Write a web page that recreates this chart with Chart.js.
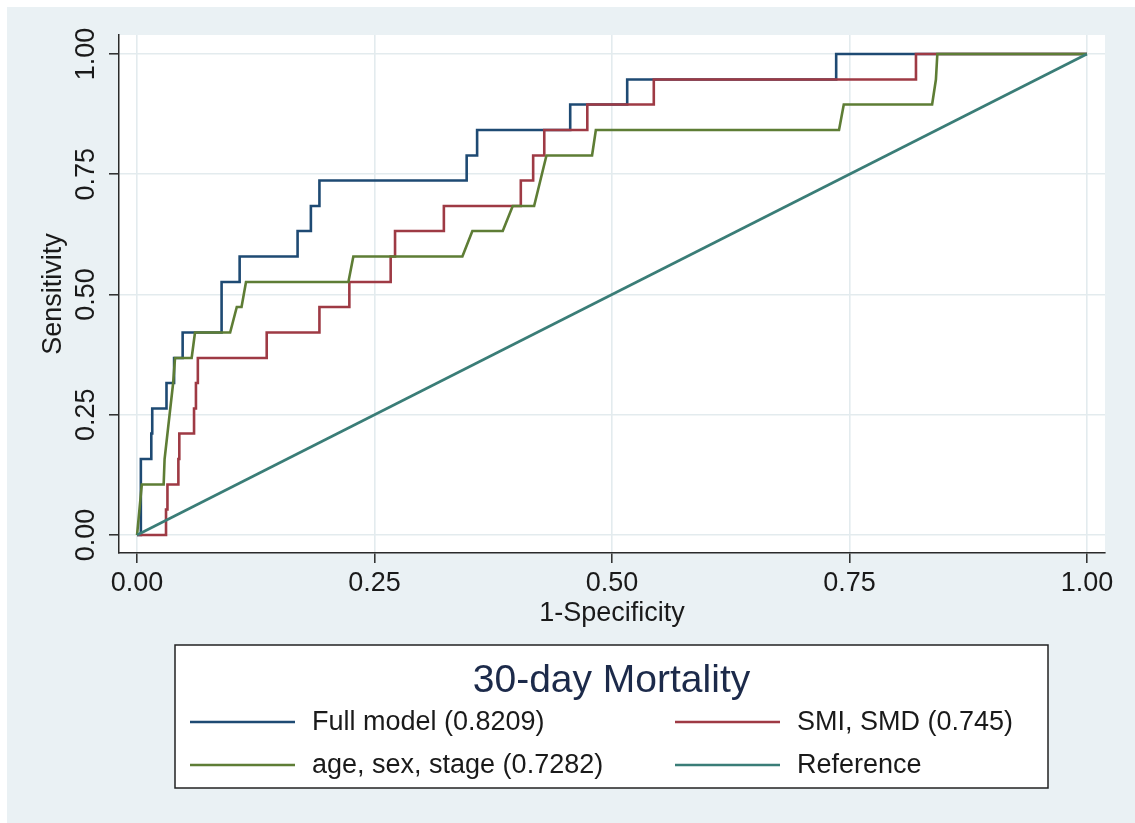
<!DOCTYPE html>
<html>
<head>
<meta charset="utf-8">
<script src="https://cdn.jsdelivr.net/npm/chart.js@4.4.1/dist/chart.umd.min.js"></script>
<style>
  html, body { margin: 0; padding: 0; background: #ffffff; }
  #wrap { width: 1135px; height: 823px; position: relative; }
  canvas { display: block; }
</style>
</head>
<body>
<div id="wrap"><canvas id="roc" width="1135" height="823"></canvas></div>
<script>
// ROC curves for 30-day mortality: 1-specificity (x) against sensitivity (y)
const tickValues = [0, 0.25, 0.5, 0.75, 1];
const tickLabels = ['0.00', '0.25', '0.50', '0.75', '1.00'];

const seriesNames = ['Full model (0.8209)', 'SMI, SMD (0.745)', 'age, sex, stage (0.7282)', 'Reference'];

const fullModelX = [0, 0.004, 0.004, 0.015, 0.015, 0.016, 0.016, 0.031, 0.031, 0.039, 0.039, 0.048, 0.048,
  0.089, 0.089, 0.108, 0.108, 0.169, 0.169, 0.183, 0.183, 0.192, 0.192, 0.347, 0.347, 0.358, 0.358,
  0.456, 0.456, 0.516, 0.516, 0.736, 0.736, 1];
const fullModelY = [0, 0, 0.158, 0.158, 0.211, 0.211, 0.263, 0.263, 0.316, 0.316, 0.368, 0.368, 0.421,
  0.421, 0.526, 0.526, 0.579, 0.579, 0.632, 0.632, 0.684, 0.684, 0.737, 0.737, 0.789, 0.789, 0.842,
  0.842, 0.895, 0.895, 0.947, 0.947, 1, 1];

const smiSmdX = [0, 0.0305, 0.0305, 0.032, 0.032, 0.0435, 0.0435, 0.0445, 0.0445, 0.060, 0.060, 0.062, 0.062,
  0.064, 0.064, 0.1365, 0.1365, 0.192, 0.192, 0.2235, 0.2235, 0.267, 0.267, 0.2716, 0.2716, 0.323, 0.323,
  0.404, 0.404, 0.417, 0.417, 0.4287, 0.4287, 0.474, 0.474, 0.544, 0.544, 0.82, 0.82, 1];
const smiSmdY = [0, 0, 0.053, 0.053, 0.105, 0.105, 0.158, 0.158, 0.211, 0.211, 0.263, 0.263, 0.316,
  0.316, 0.368, 0.368, 0.421, 0.421, 0.474, 0.474, 0.526, 0.526, 0.579, 0.579, 0.632, 0.632, 0.684,
  0.684, 0.737, 0.737, 0.789, 0.789, 0.842, 0.842, 0.895, 0.895, 0.947, 0.947, 1, 1];

const ageSexStageX = [0, 0.005, 0.028, 0.029, 0.038, 0.040, 0.0575, 0.061, 0.098, 0.105, 0.110, 0.1147,
  0.2225, 0.2277, 0.3425, 0.353, 0.385, 0.3955, 0.418, 0.431, 0.479, 0.483, 0.739, 0.744, 0.837, 0.841, 0.8425, 1];
const ageSexStageY = [0, 0.105, 0.105, 0.158, 0.316, 0.368, 0.368, 0.421, 0.421, 0.474, 0.474, 0.526,
  0.526, 0.579, 0.579, 0.632, 0.632, 0.684, 0.684, 0.789, 0.789, 0.842, 0.842, 0.895, 0.895, 0.947, 1, 1];

const referenceX = [0, 1];
const referenceY = [0, 1];

const seriesColors = ['#1e4a73', '#9e3a44', '#5e7d35', '#3a7d77'];

const FONT = '"Liberation Sans", Arial, Helvetica, sans-serif';
const toPoints = (xs, ys) => xs.map((v, i) => ({ x: v, y: ys[i] }));

const seriesData = [
  toPoints(fullModelX, fullModelY),
  toPoints(smiSmdX, smiSmdY),
  toPoints(ageSexStageX, ageSexStageY),
  toPoints(referenceX, referenceY)
];

// later series are painted over earlier ones
const datasets = seriesData.map((pts, i) => ({
  label: seriesNames[i],
  data: pts,
  borderColor: seriesColors[i],
  backgroundColor: seriesColors[i],
  borderWidth: 2.6,
  pointRadius: 0,
  showLine: true,
  tension: 0,
  order: seriesData.length - i
}));

const frame = {
  id: 'frame',
  beforeDraw(chart) {
    const { ctx, chartArea: a, width, height } = chart;
    ctx.save();
    ctx.fillStyle = '#ffffff';
    ctx.fillRect(0, 0, width, height);
    ctx.fillStyle = '#eaf1f4';
    ctx.fillRect(7, 7, width - 7, height - 7);
    ctx.fillStyle = '#ffffff';
    ctx.fillRect(a.left, a.top, a.right - a.left, a.bottom - a.top);
    ctx.restore();
  },
  afterDraw(chart) {
    const { ctx, scales: { x, y } } = chart;
    ctx.save();
    ctx.fillStyle = '#1a1a1a';
    ctx.font = `27px ${FONT}`;
    ctx.textAlign = 'center';
    ctx.textBaseline = 'middle';
    tickValues.forEach((v, i) => ctx.fillText(tickLabels[i], x.getPixelForValue(v), 584));
    tickValues.forEach((v, i) => {
      ctx.save();
      ctx.translate(87, y.getPixelForValue(v));
      ctx.rotate(-Math.PI / 2);
      ctx.fillText(tickLabels[i], 0, 0);
      ctx.restore();
    });

    // axis titles
    ctx.font = `27px ${FONT}`;
    ctx.fillText('1-Specificity', (x.left + x.right) / 2, 614);
    ctx.save();
    ctx.translate(54, (y.top + y.bottom) / 2);
    ctx.rotate(-Math.PI / 2);
    ctx.fillText('Sensitivity', 0, 0);
    ctx.restore();

    // legend box
    const box = { l: 175, t: 645, r: 1048, b: 788 };
    ctx.fillStyle = '#ffffff';
    ctx.fillRect(box.l, box.t, box.r - box.l, box.b - box.t);
    ctx.strokeStyle = '#222222';
    ctx.lineWidth = 1.5;
    ctx.strokeRect(box.l, box.t, box.r - box.l, box.b - box.t);

    ctx.fillStyle = '#1c2a4a';
    ctx.font = `39px ${FONT}`;
    ctx.fillText('30-day Mortality', (box.l + box.r) / 2, 681);

    const cols = [{ l0: 190, l1: 295, tx: 312 }, { l0: 675, l1: 780, tx: 797 }];
    const rows = [722, 765];
    ctx.font = `27px ${FONT}`;
    ctx.textAlign = 'left';
    chart.data.datasets.forEach((ds, i) => {
      const c = cols[i % 2];
      const r = rows[Math.floor(i / 2)];
      ctx.strokeStyle = ds.borderColor;
      ctx.lineWidth = 2.6;
      ctx.beginPath();
      ctx.moveTo(c.l0, r);
      ctx.lineTo(c.l1, r);
      ctx.stroke();
      ctx.fillStyle = '#1a1a1a';
      ctx.fillText(ds.label, c.tx, r + 1);
    });
    ctx.restore();
  }
};

const gridCommon = {
  color: '#e3ebee',
  lineWidth: 1.6,
  drawTicks: true,
  tickLength: 10,
  tickColor: '#2a2a2a',
  tickWidth: 1.5
};

new Chart(document.getElementById('roc'), {
  type: 'scatter',
  data: { datasets },
  plugins: [frame],
  options: {
    responsive: false,
    animation: false,
    layout: { padding: { top: 35, right: 30, left: 0, bottom: 0 } },
    plugins: { legend: { display: false }, tooltip: { enabled: false } },
    scales: {
      x: {
        type: 'linear',
        min: -0.019,
        max: 1.019,
        grid: gridCommon,
        border: { display: true, color: '#2a2a2a', width: 1.5 },
        ticks: { display: false },
        afterBuildTicks: s => { s.ticks = tickValues.map(v => ({ value: v })); },
        afterFit: s => { s.height = 270; }
      },
      y: {
        type: 'linear',
        min: -0.0374,
        max: 1.0395,
        grid: gridCommon,
        border: { display: true, color: '#2a2a2a', width: 1.5 },
        ticks: { display: false },
        afterBuildTicks: s => { s.ticks = tickValues.map(v => ({ value: v })); },
        afterFit: s => { s.width = 119; }
      }
    }
  }
});
</script>
</body>
</html>
